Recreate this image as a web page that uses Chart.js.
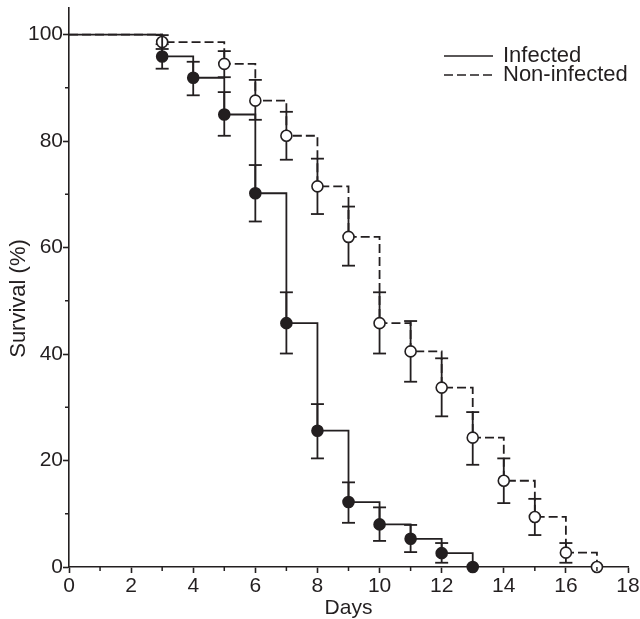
<!DOCTYPE html>
<html><head><meta charset="utf-8">
<script src="https://cdn.jsdelivr.net/npm/chart.js@4.4.1/dist/chart.umd.min.js"></script>
<style>html,body{margin:0;padding:0;background:#fff}#wrap{width:640px;height:619px;position:relative}</style>
</head><body><div id="wrap"><canvas id="c"></canvas></div>
<script>
const INK = '#231f20';
const FONT = "'Liberation Sans', Arial, Helvetica, sans-serif";

// Survival curves (day, % survival)
const daysInfected = [0, 3, 4, 5, 6, 7, 8, 9, 10, 11, 12, 13];
const survInfected = [100, 95.9, 91.9, 85.0, 70.2, 45.8, 25.6, 12.2, 8.0, 5.3, 2.6, 0];
const daysNonInfected = [0, 3, 5, 6, 7, 8, 9, 10, 11, 12, 13, 14, 15, 16, 17];
const survNonInfected = [100, 98.6, 94.5, 87.6, 81.0, 71.5, 62.0, 45.8, 40.5, 33.7, 24.3, 16.2, 9.4, 2.7, 0];

// Error bars
const errDaysInfected = [3, 4, 5, 6, 7, 8, 9, 10, 11, 12];
const lowInfected  = [93.6, 88.6, 81.0, 64.9, 40.1, 20.4, 8.3, 4.9, 2.8, 0.8];
const highInfected = [98.2, 94.9, 89.2, 75.5, 51.6, 30.6, 15.9, 11.2, 7.9, 4.5];
const errDaysNonInfected = [3, 5, 6, 7, 8, 9, 10, 11, 12, 13, 14, 15, 16];
const lowNonInfected  = [97.3, 92.0, 84.0, 76.5, 66.3, 56.6, 40.1, 34.8, 28.3, 19.2, 12.0, 6.0, 0.8];
const highNonInfected = [99.9, 96.9, 91.5, 85.5, 76.7, 67.7, 51.6, 46.2, 39.2, 29.1, 20.4, 12.8, 4.5];

// Axes
const xMin = 0, xMax = 18, xMajorStep = 2, xMinorStep = 1;
const yMin = 0, yMax = 105, yMajorStep = 20, yMinorStep = 10, yTop = 100;
const seriesLabels = ['Infected', 'Non-infected'];
const axisTitles = {x: 'Days', y: 'Survival (%)'};

const toXY = (xs, ys) => xs.map((x, i) => ({x, y: ys[i]}));
const toErr = (xs, lo, hi) => xs.flatMap((x, i) => [{x, y: lo[i]}, {x, y: hi[i]}, {x, y: null}]);

const minorTicks = {
  id: 'minorTicks',
  afterDraw(chart) {
    const {ctx} = chart;
    const xs = chart.scales.x, ys = chart.scales.y;
    ctx.save();
    ctx.strokeStyle = INK; ctx.lineWidth = 1.5;
    ctx.beginPath();
    for (let v = xMin + xMinorStep; v < xMax; v += xMajorStep) {
      const px = xs.getPixelForValue(v);
      ctx.moveTo(px, ys.bottom); ctx.lineTo(px, ys.bottom + 4);
    }
    for (let v = yMin + yMinorStep; v < yTop; v += yMajorStep) {
      const py = ys.getPixelForValue(v);
      ctx.moveTo(xs.left, py); ctx.lineTo(xs.left - 4, py);
    }
    ctx.stroke();
    ctx.restore();
  }
};

const legendPlugin = {
  id: 'customLegend',
  afterDraw(chart) {
    const {ctx, chartArea} = chart;
    const x0 = chartArea.right - 184, x1 = x0 + 49, tx = x0 + 59;
    const rows = [{y: 56, dash: []}, {y: 75, dash: [9, 4]}];
    ctx.save();
    ctx.strokeStyle = INK; ctx.fillStyle = INK; ctx.lineWidth = 1.6;
    ctx.font = "22px " + FONT;
    ctx.textBaseline = 'middle'; ctx.textAlign = 'left';
    rows.forEach((r, i) => {
      ctx.setLineDash(r.dash);
      ctx.beginPath(); ctx.moveTo(x0, r.y); ctx.lineTo(x1, r.y); ctx.stroke();
      ctx.fillText(seriesLabels[i], tx, r.y);
    });
    // y-axis title, slightly below the axis centre as in the original
    const ys = chart.scales.y;
    ctx.setLineDash([]);
    ctx.translate(19, (ys.top + ys.bottom) / 2 + 11);
    ctx.rotate(-Math.PI / 2);
    ctx.textAlign = 'center';
    ctx.fillText(axisTitles.y, 0, 0);
    ctx.restore();
  }
};

const radiusFn = c => c.dataIndex === 0 ? 0 : 5.5;

new Chart(document.getElementById('c'), {
  type: 'line',
  data: {
    datasets: [
      {label: seriesLabels[0], data: toXY(daysInfected, survInfected), stepped: true,
       borderColor: INK, borderWidth: 1.8, pointRadius: radiusFn, pointBackgroundColor: INK,
       pointBorderColor: INK, pointBorderWidth: 1.6, clip: false, order: 0},
      {label: seriesLabels[1], data: toXY(daysNonInfected, survNonInfected), stepped: true,
       borderColor: INK, borderWidth: 1.8, borderDash: [9, 4], pointRadius: radiusFn,
       pointBackgroundColor: '#ffffff', pointBorderColor: INK, pointBorderWidth: 1.6, clip: false, order: 1},
      {label: 'errInf', data: toErr(errDaysInfected, lowInfected, highInfected), spanGaps: false,
       borderColor: INK, borderWidth: 1.8, pointStyle: 'line', pointRadius: 6.5, pointBorderWidth: 1.8,
       pointBorderColor: INK, clip: false, order: 2},
      {label: 'errNon', data: toErr(errDaysNonInfected, lowNonInfected, highNonInfected), spanGaps: false,
       borderColor: INK, borderWidth: 1.8, pointStyle: 'line', pointRadius: 6.5, pointBorderWidth: 1.8,
       pointBorderColor: INK, clip: false, order: 3}
    ]
  },
  options: {
    responsive: true, maintainAspectRatio: false, animation: false, events: [],
    devicePixelRatio: 1,
    layout: {padding: {top: 8, right: 12, left: 0, bottom: 0}, autoPadding: false},
    plugins: {legend: {display: false}, tooltip: {enabled: false}},
    scales: {
      x: {
        type: 'linear', min: xMin, max: xMax,
        ticks: {stepSize: xMajorStep, color: INK, font: {family: FONT, size: 21}, padding: 1, maxRotation: 0},
        grid: {drawOnChartArea: false, drawTicks: true, tickLength: 6, tickColor: INK, tickWidth: 1.6},
        border: {display: true, color: INK, width: 1.6},
        title: {display: true, text: axisTitles.x, color: INK, font: {family: FONT, size: 21, lineHeight: 1}, padding: 0},
        afterFit(s) { s.height = 52; s.paddingLeft = 0; s.paddingRight = 0; }
      },
      y: {
        type: 'linear', min: yMin, max: yMax,
        ticks: {stepSize: yMajorStep, includeBounds: false, color: INK, font: {family: FONT, size: 21}, padding: 0},
        grid: {drawOnChartArea: false, drawTicks: true, tickLength: 6, tickColor: INK, tickWidth: 1.6},
        border: {display: true, color: INK, width: 1.6},
        title: {display: false},
        afterFit(s) { s.width = 69; s.paddingTop = 0; s.paddingBottom = 0; }
      }
    }
  },
  plugins: [minorTicks, legendPlugin]
});
</script></body></html>
